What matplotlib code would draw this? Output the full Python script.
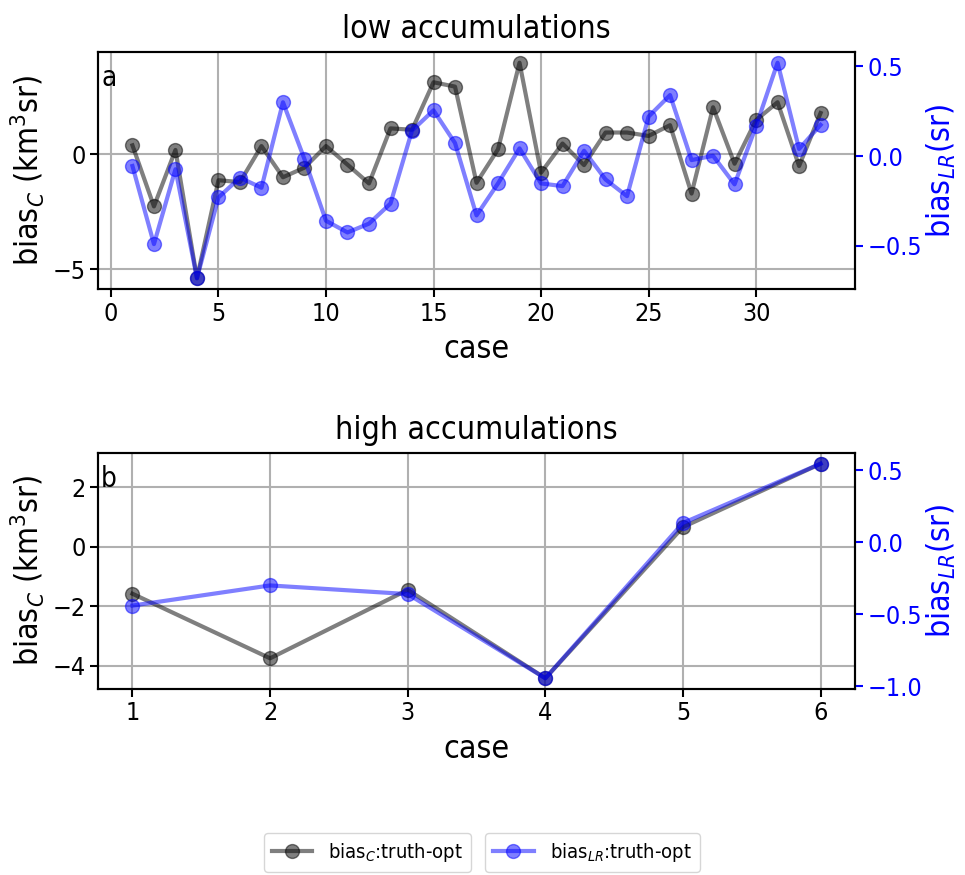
import matplotlib
matplotlib.use('Agg')
import matplotlib.pyplot as plt
import numpy as np

# bias of the retrieved constant and lidar ratio, per case
bias_c_low = [0.39, -2.27, 0.19, -5.40, -1.13, -1.21, 0.36, -1.00, -0.58, 0.36,
              -0.45, -1.27, 1.13, 1.07, 3.14, 2.95, -1.24, 0.22, 3.99, -0.80,
              0.47, -0.47, 0.95, 0.95, 0.80, 1.27, -1.71, 2.05, -0.41, 1.49,
              2.27, -0.51, 1.80]
bias_lr_low = [-0.055, -0.49, -0.073, -0.68, -0.23, -0.12, -0.176, 0.30, -0.017, -0.36,
               -0.425, -0.376, -0.264, 0.142, 0.255, 0.073, -0.33, -0.152, 0.043, -0.152,
               -0.167, 0.03, -0.13, -0.223, 0.22, 0.34, -0.022, 0.002, -0.157, 0.167,
               0.52, 0.04, 0.174]

bias_c_high = [-1.58, -3.75, -1.45, -4.42, 0.66, 2.79]
bias_lr_high = [-0.44, -0.30, -0.36, -0.945, 0.134, 0.546]

label_c = 'bias$_C$:truth-opt'
label_lr = 'bias$_{LR}$:truth-opt'

plt.rcParams['font.stretch'] = 'condensed'
plt.rcParams['axes.linewidth'] = 1.5
plt.rcParams['xtick.major.size'] = 5.5
plt.rcParams['ytick.major.size'] = 5.5
plt.rcParams['xtick.major.width'] = 1.5
plt.rcParams['ytick.major.width'] = 1.5

fig = plt.figure(figsize=(9.65, 8.75), dpi=100)
ax1 = fig.add_axes([0.1016, 0.6697, 0.7844, 0.2709])
ax2 = fig.add_axes([0.1016, 0.2126, 0.7844, 0.2697])

LABEL_FS = 23
TICK_FS = 18


def draw_panel(ax, c_vals, lr_vals, title, tag, xticks, cticks, lrticks):
    cases = np.arange(1, len(c_vals) + 1)
    ln_c, = ax.plot(cases, c_vals, color='k', alpha=0.5, lw=3, marker='o',
                    markersize=10, label=label_c)
    ax.grid(True, color='#b0b0b0', lw=1.5)
    ax.set_xticks(xticks)
    ax.set_yticks(cticks)
    ax.tick_params(labelsize=TICK_FS)
    ax.set_xlabel('case', fontsize=LABEL_FS, labelpad=6)
    ax.set_ylabel('bias$_C$ (km$^3$sr)', fontsize=LABEL_FS)
    ax.set_title(title, fontsize=LABEL_FS, pad=10)
    ax.text(0.004, 0.89, tag, transform=ax.transAxes, fontsize=TICK_FS + 2,
            va='center', ha='left')

    axr = ax.twinx()
    ln_lr, = axr.plot(cases, lr_vals, color='b', alpha=0.5, lw=3, marker='o',
                      markersize=10, label=label_lr)
    axr.set_yticks(lrticks)
    axr.tick_params(axis='y', colors='b', labelsize=TICK_FS)
    axr.set_ylabel('bias$_{LR}$(sr)', fontsize=LABEL_FS, color='b', labelpad=2)
    return ln_c, ln_lr


h_c, h_lr = draw_panel(ax1, bias_c_low, bias_lr_low, 'low accumulations', 'a',
                       [0, 5, 10, 15, 20, 25, 30], [-5, 0], [-0.5, 0.0, 0.5])
draw_panel(ax2, bias_c_high, bias_lr_high, 'high accumulations', 'b',
           [1, 2, 3, 4, 5, 6], [-4, -2, 0, 2], [-1.0, -0.5, 0.0, 0.5])

# two separate legend boxes under the panels
fig.legend(handles=[h_c], loc='upper center', bbox_to_anchor=(0.381, 0.048),
           fontsize=14.5, borderaxespad=0)
fig.legend(handles=[h_lr], loc='upper center', bbox_to_anchor=(0.614, 0.048),
           fontsize=14.5, borderaxespad=0)

fig.savefig('out.png', dpi=100)
